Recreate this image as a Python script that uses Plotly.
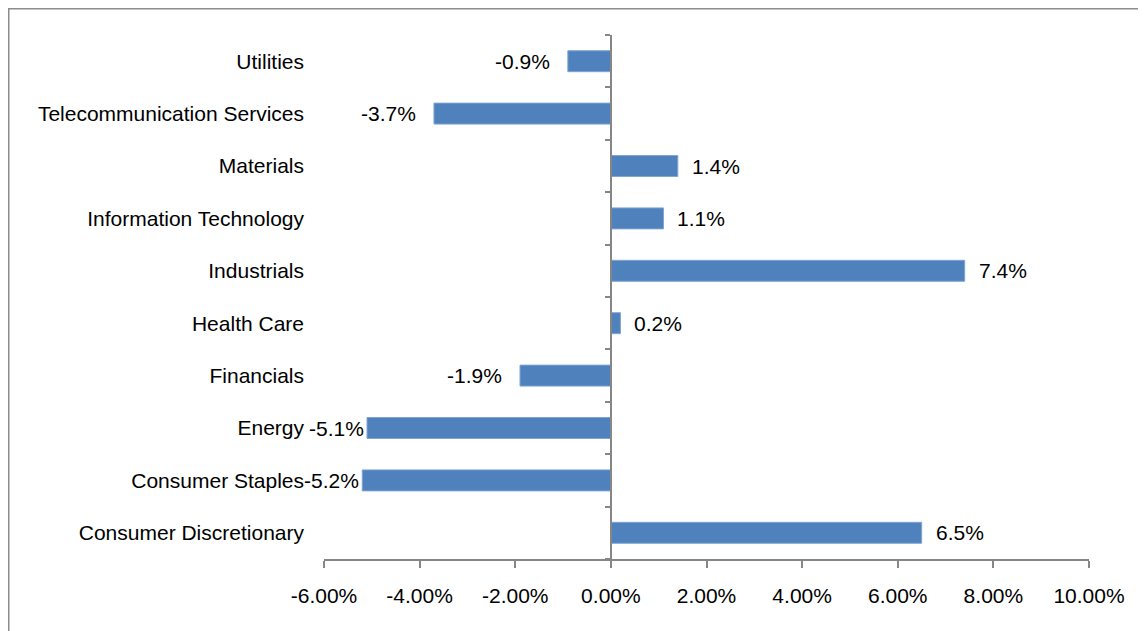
import plotly.graph_objects as go

categories = ["Consumer Discretionary", "Consumer Staples", "Energy", "Financials",
              "Health Care", "Industrials", "Information Technology", "Materials",
              "Telecommunication Services", "Utilities"]
returns = [6.5, -5.2, -5.1, -1.9, 0.2, 7.4, 1.1, 1.4, -3.7, -0.9]
x_ticks = [-6, -4, -2, 0, 2, 4, 6, 8, 10]
x_tick_labels = [f"{t:.2f}%" for t in x_ticks]

FONT = "Liberation Sans, Arial, sans-serif"
AXIS_COLOR = "#868686"
BAR_COLOR = "#4F81BD"

# page body has an 8px margin; figure sized to fit the 1146x631 window
W, H = 1138, 623
L, R, T, B = 316, 57, 27, 72
plot_w, plot_h = W - L - R, H - T - B

fig = go.Figure()
fig.add_trace(go.Bar(
    y=categories, x=returns, orientation="h", width=0.4,
    marker=dict(color=BAR_COLOR, line=dict(color="#7fa4d4", width=1)),
    hoverinfo="x+y", showlegend=False,
))
# invisible helper trace so the zero-positioned category axis is drawn
fig.add_trace(go.Scatter(x=[0], y=[0], yaxis="y2", mode="markers",
                         marker=dict(opacity=0), hoverinfo="skip", showlegend=False))

annotations = []
for cat, v in zip(categories, returns):
    if v >= 0:
        anchor, shift = "left", 12
    else:
        anchor = "right"
        shift = -1 if v < -5 else -16  # long negative bars: label hugs the bar end
    annotations.append(dict(
        x=v, y=cat, xref="x", yref="y", text=f"{v:.1f}%", showarrow=False,
        xanchor=anchor, yanchor="middle", xshift=shift,
        font=dict(family=FONT, size=21, color="black"),
    ))

fig.update_layout(
    width=W, height=H,
    margin=dict(l=L, r=R, t=T, b=B),
    paper_bgcolor="white", plot_bgcolor="white",
    font=dict(family=FONT, size=21, color="black"),
    bargap=0.6,
    xaxis=dict(
        range=[-6, 10], tickvals=x_ticks, ticktext=x_tick_labels,
        showline=True, linecolor=AXIS_COLOR, linewidth=1.5,
        ticks="outside", ticklen=7, tickcolor=AXIS_COLOR, tickwidth=1.5,
        showgrid=False, zeroline=False,
        tickfont=dict(family=FONT, size=21, color="black"),
        ticklabelstandoff=10,
    ),
    yaxis=dict(
        type="category", categoryorder="array", categoryarray=categories,
        range=[-0.5, 9.5], showline=False, ticks="", showgrid=False, zeroline=False,
        tickfont=dict(family=FONT, size=21, color="black"),
        ticklabelstandoff=19,
    ),
    yaxis2=dict(
        overlaying="y", anchor="free", position=6 / 16,
        range=[-0.5, 9.5], tickvals=[i - 0.5 for i in range(11)],
        showticklabels=False, ticks="outside", ticklen=5,
        tickcolor=AXIS_COLOR, tickwidth=1.5,
        showline=True, linecolor=AXIS_COLOR, linewidth=1.5,
        showgrid=False, zeroline=False,
    ),
    annotations=annotations,
    shapes=[dict(type="rect", xref="paper", yref="paper",
                 x0=(0.5 - L) / plot_w, x1=1.2,
                 y0=-0.3, y1=(plot_h + T - 0.5) / plot_h,
                 line=dict(color="#8c8c8c", width=2), layer="below")],
)

fig.write_html("out.html")
